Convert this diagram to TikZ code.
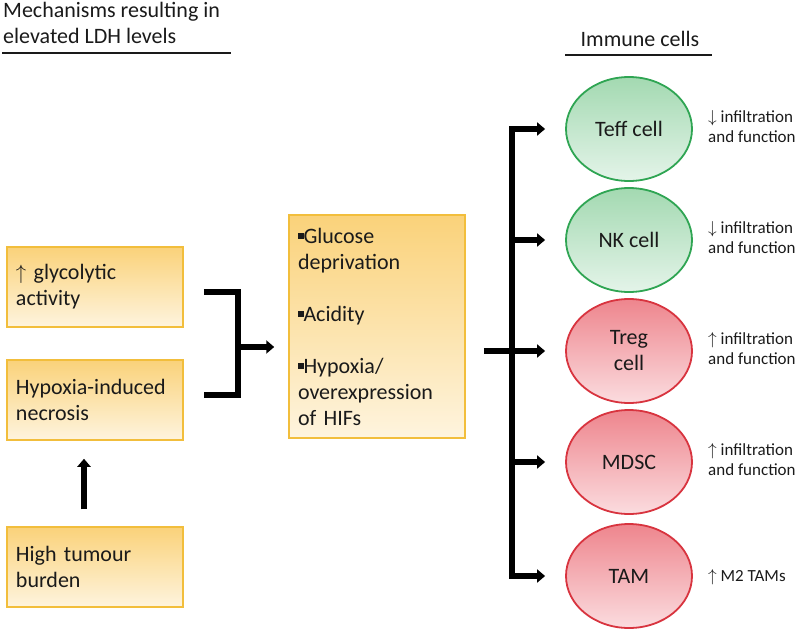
\documentclass[tikz,border=0pt]{standalone}
\usepackage{fontspec}
\setmainfont{Carlito}
\usetikzlibrary{arrows.meta,shapes.geometric}
\definecolor{boxborder}{HTML}{F2BE3C}
\definecolor{boxtop}{HTML}{FAD27A}
\definecolor{boxbot}{HTML}{FEF4DE}
\definecolor{gborder}{HTML}{2FA553}
\definecolor{gtop}{HTML}{A3D9B1}
\definecolor{gbot}{HTML}{E4F4E9}
\definecolor{rborder}{HTML}{D8343F}
\definecolor{rtop}{HTML}{EE858D}
\definecolor{rbot}{HTML}{FBDCDF}
\definecolor{ink}{HTML}{1A1A1A}
\newcommand{\sqb}{\rule[4.5pt]{5.5pt}{5.5pt}}
\begin{document}
\begin{tikzpicture}[x=1pt,y=-1pt,
  every node/.style={text=ink},
  mainfont/.style={font=\fontsize{22}{26}\selectfont},
  smallfont/.style={font=\fontsize{17}{20}\selectfont},
  ybox/.style={mainfont, draw=boxborder, line width=1.5pt, top color=boxtop, bottom color=boxbot,
     minimum width=176pt, minimum height=80pt, text width=158pt, align=left, inner sep=0pt},
  cellg/.style={mainfont, ellipse, draw=gborder, line width=1.8pt, top color=gtop, bottom color=gbot,
     minimum width=126pt, minimum height=104pt, inner sep=0pt, align=center},
  cellr/.style={mainfont, ellipse, draw=rborder, line width=1.8pt, top color=rtop, bottom color=rbot,
     minimum width=126pt, minimum height=104pt, inner sep=0pt, align=center},
  lbl/.style={smallfont, anchor=west, align=left, inner sep=0pt},
  barline/.style={line width=6pt, line cap=rect, black},
  arr/.style={line width=6pt, black, -{Triangle[length=8pt,width=13pt]}},
]
\useasboundingbox (0,0) rectangle (800,629);
% headings
\node[mainfont, anchor=north west, align=left, inner sep=0pt] (title) at (3,2) {Mechanisms resulting in\\elevated LDH levels};
\draw[line width=2pt, ink] (2,53) coordinate (tl1) -- (231,53) coordinate (tl2);
\node[mainfont, inner sep=0pt] (immune) at (640,39) {Immune cells};
\draw[line width=2pt, ink] (565,55) coordinate (il1) -- (712,55) coordinate (il2);
% left boxes
\node[ybox] (b1) at (95,287) {$\uparrow$ glycolytic\\activity};
\node[ybox] (b2) at (95,400) {Hypoxia-induced\\necrosis};
\node[ybox] (b3) at (95,567) {High tumour\\burden};
% center box
\node[ybox, minimum height=223pt] (mid) at (377,326.5) {\sqb Glucose\\deprivation\\[26pt]\sqb Acidity\\[26pt]\sqb Hypoxia/\\overexpression\\of HIFs};
% cells
\node[cellg] (teff) at (629,129) {Teff cell};
\node[cellg] (nk) at (629,240) {NK cell};
\node[cellr] (treg) at (629,351) {Treg\\cell};
\node[cellr] (mdsc) at (629,462) {MDSC};
\node[cellr] (tam) at (629,576) {TAM};
% labels
\node[lbl] (l1) at (708,127) {$\downarrow$ infiltration\\and function};
\node[lbl] (l2) at (708,238) {$\downarrow$ infiltration\\and function};
\node[lbl] (l3) at (708,349) {$\uparrow$ infiltration\\and function};
\node[lbl] (l4) at (708,460) {$\uparrow$ infiltration\\and function};
\node[lbl] (l5) at (708,577) {$\uparrow$ M2 TAMs};
% up arrow
\draw[arr, shorten <=17pt, shorten >=18pt] ([xshift=-11pt]b3.north) -- ([xshift=-11pt]b2.south);
% bracket
\draw[barline, line cap=butt] ([xshift=20pt,yshift=-5pt]b1.east) -| (238,343.5) |- ([xshift=20pt,yshift=5pt]b2.east);
\coordinate (brk) at (238,347);
\draw[arr, shorten >=14pt] (brk) -- (brk -| mid.west);
% right bus
\coordinate (bus) at (512,0);
\draw[barline] (bus |- teff.west) -- (bus |- tam.west);
\draw[arr, shorten <=18pt, shorten >=20pt] (mid.east |- treg.west) -- (treg.west);
\draw[arr, shorten >=20pt] (bus |- teff.west) -- (teff.west);
\draw[arr, shorten >=20pt] (bus |- nk.west) -- (nk.west);
\draw[arr, shorten >=20pt] (bus |- mdsc.west) -- (mdsc.west);
\draw[arr, shorten >=20pt] (bus |- tam.west) -- (tam.west);
\end{tikzpicture}
\end{document}
